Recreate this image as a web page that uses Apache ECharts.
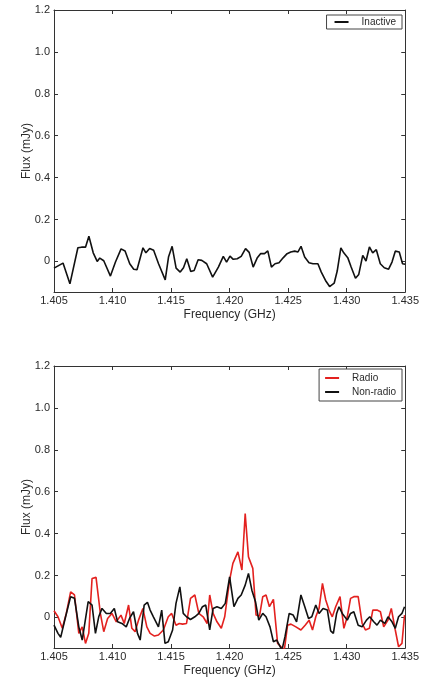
<!DOCTYPE html>
<html>
<head>
<meta charset="utf-8">
<script src="https://cdn.jsdelivr.net/npm/echarts@6/dist/echarts.min.js"></script>
<style>
  html, body { margin: 0; padding: 0; background: #fff; }
  #chart { width: 422px; height: 678px; }
</style>
</head>
<body>
<div id="chart"></div>
<script>
const freqTicks = [1.405, 1.41, 1.415, 1.42, 1.425, 1.43, 1.435];
const fluxTicks = [0, 0.2, 0.4, 0.6, 0.8, 1.0, 1.2];

// top panel: inactive stack
const freqInactive = [1.40500,1.40577,1.40636,1.40704,1.40735,1.40769,1.40798,1.40835,1.40869,1.40891,
  1.40925,1.40982,1.41025,1.41073,1.41107,1.41147,1.41181,1.41209,1.41260,1.41285,
  1.41317,1.41351,1.41393,1.41450,1.41478,1.41509,1.41543,1.41578,1.41606,1.41634,
  1.41668,1.41697,1.41731,1.41762,1.41804,1.41855,1.41904,1.41946,1.41974,1.42003,
  1.42031,1.42065,1.42099,1.42136,1.42167,1.42201,1.42235,1.42264,1.42298,1.42326,
  1.42357,1.42388,1.42422,1.42457,1.42491,1.42522,1.42556,1.42584,1.42610,1.42641,
  1.42678,1.42712,1.42754,1.42783,1.42819,1.42854,1.42893,1.42919,1.42950,1.42975,
  1.43009,1.43038,1.43075,1.43103,1.43137,1.43165,1.43194,1.43222,1.43253,1.43287,
  1.43321,1.43358,1.43387,1.43415,1.43449,1.43477,1.43500];
const fluxInactive = [-0.032,-0.008,-0.107,0.065,0.068,0.068,0.120,0.041,0.000,0.016,
  0.003,-0.070,-0.003,0.060,0.050,-0.011,-0.037,-0.040,0.065,0.041,
  0.062,0.053,-0.011,-0.088,0.021,0.072,-0.032,-0.051,-0.030,0.013,
  -0.048,-0.043,0.008,0.005,-0.011,-0.075,-0.027,0.024,-0.003,0.025,
  0.010,0.013,0.024,0.061,0.043,-0.027,0.016,0.037,0.037,0.050,
  -0.027,-0.011,-0.006,0.017,0.037,0.045,0.049,0.045,0.072,0.021,
  -0.006,-0.011,-0.011,-0.051,-0.091,-0.120,-0.104,-0.046,0.065,0.041,
  0.018,-0.027,-0.080,-0.062,0.029,0.002,0.069,0.041,0.056,-0.011,
  -0.030,-0.037,-0.003,0.049,0.045,-0.011,-0.014];

// bottom panel: radio vs non-radio
const freqRadio = [1.40500,1.40534,1.40571,1.40605,1.40642,1.40675,1.40712,1.40741,1.40769,1.40797,
  1.40825,1.40859,1.40896,1.40925,1.40958,1.40995,1.41032,1.41072,1.41100,1.41137,
  1.41165,1.41193,1.41222,1.41259,1.41293,1.41321,1.41358,1.41392,1.41434,1.41476,
  1.41505,1.41542,1.41570,1.41598,1.41632,1.41666,1.41703,1.41737,1.41774,1.41808,
  1.41830,1.41859,1.41892,1.41929,1.41958,1.42000,1.42028,1.42071,1.42105,1.42133,
  1.42161,1.42198,1.42226,1.42255,1.42283,1.42311,1.42340,1.42374,1.42410,1.42439,
  1.42467,1.42495,1.42524,1.42566,1.42609,1.42645,1.42679,1.42708,1.42736,1.42764,
  1.42793,1.42821,1.42849,1.42877,1.42906,1.42943,1.42976,1.43005,1.43033,1.43061,
  1.43098,1.43132,1.43160,1.43194,1.43223,1.43259,1.43288,1.43316,1.43353,1.43381,
  1.43415,1.43443,1.43472,1.43494];
const fluxRadio = [0.032,0.003,-0.052,0.019,0.122,0.107,-0.076,-0.045,-0.124,-0.076,
  0.186,0.191,0.019,-0.068,-0.005,0.019,-0.021,0.011,-0.029,0.059,
  -0.052,-0.068,-0.013,0.043,-0.045,-0.076,-0.089,-0.084,-0.060,0.003,
  0.019,-0.037,-0.029,-0.032,-0.029,0.091,0.107,0.019,0.003,-0.029,
  0.107,0.019,-0.021,-0.052,0.003,0.178,0.258,0.313,0.226,0.496,
  0.289,0.234,0.011,0.006,0.099,0.107,0.051,0.086,-0.124,-0.140,
  -0.156,-0.037,-0.032,-0.045,-0.060,-0.037,-0.013,-0.060,0.003,0.043,
  0.162,0.083,0.035,0.003,0.051,0.099,-0.052,0.003,0.091,0.099,
  0.099,-0.029,-0.060,-0.052,0.035,0.035,0.027,-0.045,-0.013,0.043,
  -0.060,-0.140,-0.124,0.011];

const freqNonRadio = [1.40500,1.40534,1.40557,1.40599,1.40642,1.40675,1.40712,1.40741,1.40792,1.40825,
  1.40854,1.40882,1.40910,1.40947,1.40981,1.41015,1.41043,1.41080,1.41117,1.41145,
  1.41179,1.41213,1.41236,1.41270,1.41298,1.41321,1.41349,1.41392,1.41420,1.41448,
  1.41476,1.41513,1.41542,1.41575,1.41604,1.41632,1.41666,1.41703,1.41737,1.41768,
  1.41796,1.41830,1.41859,1.41892,1.41929,1.41963,1.42000,1.42037,1.42071,1.42099,
  1.42133,1.42161,1.42190,1.42221,1.42249,1.42283,1.42311,1.42345,1.42374,1.42402,
  1.42425,1.42447,1.42473,1.42509,1.42543,1.42572,1.42609,1.42642,1.42674,1.42702,
  1.42736,1.42764,1.42798,1.42835,1.42863,1.42886,1.42914,1.42934,1.42962,1.43005,
  1.43033,1.43061,1.43098,1.43132,1.43169,1.43197,1.43231,1.43259,1.43288,1.43325,
  1.43353,1.43387,1.43415,1.43443,1.43472,1.43494];
const fluxNonRadio = [-0.037,-0.076,-0.095,0.003,0.099,0.091,-0.045,-0.108,0.075,0.059,
  -0.076,0.003,0.043,0.019,0.019,0.043,-0.021,-0.029,-0.045,-0.005,
  0.027,-0.076,-0.108,0.059,0.072,0.035,0.003,-0.045,0.035,-0.124,
  -0.116,-0.060,0.067,0.146,0.019,0.003,-0.010,0.003,0.019,0.051,
  0.059,-0.060,0.043,0.051,0.043,0.067,0.194,0.051,0.091,0.107,
  0.154,0.210,0.130,0.075,-0.013,0.019,0.003,-0.045,-0.116,-0.108,
  -0.132,-0.156,-0.092,0.019,0.011,-0.021,0.107,0.051,-0.005,0.003,
  0.059,0.019,0.043,0.035,-0.064,-0.076,0.019,0.051,0.019,-0.013,
  0.019,0.027,-0.037,-0.045,-0.013,0.003,-0.021,-0.037,-0.013,-0.029,
  0.003,-0.021,-0.052,0.003,0.019,0.051];

const FONT = 'Liberation Sans, Arial, sans-serif';
const TEXT = '#2a2a2a';
const AXIS = '#333';

const pairs = (xs, ys) => xs.map((x, i) => [x, ys[i]]);

// matplotlib-ish box: ticks pointing inward on all four sides
const xAxisFor = (gridIndex, position, withLabels) => ({
  type: 'value',
  gridIndex,
  position,
  min: 1.405,
  max: 1.435,
  name: withLabels ? 'Frequency (GHz)' : '',
  nameLocation: 'middle',
  nameGap: 17,
  nameMoveOverlap: false,
  nameTextStyle: { color: TEXT, fontSize: 12, fontFamily: FONT },
  axisLine: { show: true, onZero: false, lineStyle: { color: AXIS, width: 1 } },
  axisTick: { show: true, inside: true, length: 4, customValues: freqTicks, lineStyle: { color: AXIS } },
  axisLabel: {
    show: withLabels,
    customValues: freqTicks,
    margin: 3,
    color: TEXT,
    fontSize: 11,
    fontFamily: FONT,
    formatter: (v) => v.toFixed(3),
  },
  splitLine: { show: false },
});

const yAxisFor = (gridIndex, position, withLabels) => ({
  type: 'value',
  gridIndex,
  position,
  min: -0.146,
  max: 1.2,
  name: withLabels ? 'Flux (mJy)' : '',
  nameLocation: 'middle',
  nameGap: 21,
  nameMoveOverlap: false,
  nameTextStyle: { color: TEXT, fontSize: 12, fontFamily: FONT },
  axisLine: { show: true, onZero: false, lineStyle: { color: AXIS, width: 1 } },
  axisTick: { show: true, inside: true, length: 4, customValues: fluxTicks, lineStyle: { color: AXIS } },
  axisLabel: {
    show: withLabels,
    customValues: fluxTicks,
    margin: 4,
    color: TEXT,
    fontSize: 11,
    fontFamily: FONT,
    formatter: (v) => (v === 0 ? '0' : v.toFixed(1)),
  },
  splitLine: { show: false },
});

const legendBase = {
  orient: 'vertical',
  right: 20,
  backgroundColor: '#fff',
  borderColor: '#444',
  borderWidth: 1,
  borderRadius: 0,
  icon: 'rect',
  itemWidth: 14,
  itemHeight: 2,
  itemGap: 4,
  textStyle: { color: TEXT, fontSize: 10, fontFamily: FONT, padding: [0, 0, 0, 8] },
};

const chart = echarts.init(document.getElementById('chart'));
chart.setOption({
  animation: false,
  backgroundColor: '#fff',
  grid: [
    { left: 54, right: 16, top: 10, height: 282 },
    { left: 54, right: 16, top: 366, height: 282 },
  ],
  xAxis: [
    xAxisFor(0, 'bottom', true),
    xAxisFor(0, 'top', false),
    xAxisFor(1, 'bottom', true),
    xAxisFor(1, 'top', false),
  ],
  yAxis: [
    yAxisFor(0, 'left', true),
    yAxisFor(0, 'right', false),
    yAxisFor(1, 'left', true),
    yAxisFor(1, 'right', false),
  ],
  legend: [
    { ...legendBase, top: 15, padding: [2, 6, 2, 8], data: ['Inactive'] },
    { ...legendBase, top: 369, padding: [4, 6, 4, 6], data: ['Radio', 'Non-radio'] },
  ],
  series: [
    {
      name: 'Inactive',
      type: 'line',
      xAxisIndex: 0,
      yAxisIndex: 0,
      symbol: 'none',
      lineStyle: { color: '#111', width: 1.6 },
      itemStyle: { color: '#111' },
      data: pairs(freqInactive, fluxInactive),
    },
    {
      name: 'Radio',
      type: 'line',
      xAxisIndex: 2,
      yAxisIndex: 2,
      symbol: 'none',
      lineStyle: { color: '#e3211f', width: 1.6 },
      itemStyle: { color: '#e3211f' },
      data: pairs(freqRadio, fluxRadio),
    },
    {
      name: 'Non-radio',
      type: 'line',
      xAxisIndex: 2,
      yAxisIndex: 2,
      symbol: 'none',
      lineStyle: { color: '#111', width: 1.6 },
      itemStyle: { color: '#111' },
      data: pairs(freqNonRadio, fluxNonRadio),
    },
  ],
});
</script>
</body>
</html>
